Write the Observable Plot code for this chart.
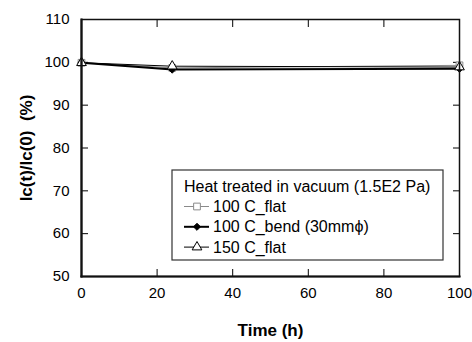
<!DOCTYPE html>
<html>
<head>
<meta charset="utf-8">
<script src="https://cdn.jsdelivr.net/npm/d3@7"></script>
<script src="https://cdn.jsdelivr.net/npm/@observablehq/plot@0.6"></script>
<style>
  body { margin: 0; background: #fff; }
  #chart svg { font-family: "Liberation Sans", Arial, sans-serif; }
</style>
</head>
<body>
<div id="chart"></div>
<script>
const times = [0, 24, 100];
const flat100 = [99.9, 98.7, 99.3];
const bend100 = [99.9, 98.3, 98.5];
const flat150 = [99.9, 99.1, 98.9];
const seriesNames = ["100 C_flat", "100 C_bend (30mm\u03d5)", "150 C_flat"];
const legendTitle = "Heat treated in vacuum (1.5E2 Pa)";
const xTicks = [0, 20, 40, 60, 80, 100];
const yTicks = [50, 60, 70, 80, 90, 100, 110];

const seriesValues = [flat100, bend100, flat150];
const styles = [
  {stroke: "#8a8a8a", strokeWidth: 1, symbol: "square", fill: "white", dotStroke: "#8a8a8a", r: 3.8},
  {stroke: "#000", strokeWidth: 2, symbol: "diamond2", fill: "#000", dotStroke: "#000", r: 3.2},
  {stroke: "#000", strokeWidth: 1, symbol: "triangle", fill: "white", dotStroke: "#000", r: 3.6}
];
const rows = seriesValues.map((vals, i) => times.map((t, j) => ({series: seriesNames[i], t, v: vals[j]})));

const marks = [];
rows.forEach((data, i) => {
  const s = styles[i];
  marks.push(Plot.line(data, {x: "t", y: "v", stroke: s.stroke, strokeWidth: s.strokeWidth}));
});
rows.forEach((data, i) => {
  const s = styles[i];
  marks.push(Plot.dot(data, {x: "t", y: "v", symbol: () => s.symbol, r: s.r, fill: s.fill, stroke: s.dotStroke, strokeWidth: 1}));
});

const plot = Plot.plot({
  width: 472,
  height: 342,
  marginLeft: 81,
  marginRight: 13,
  marginTop: 19,
  marginBottom: 66,
  style: {fontFamily: "Liberation Sans, Arial, sans-serif", fontSize: "15px", color: "#000", background: "#fff"},
  x: {domain: [0, 100]},
  y: {domain: [50, 110]},
  symbol: {type: "identity"},
  marks: [
    Plot.axisX({ticks: xTicks, tickSize: -7, tickPadding: 18, anchor: "bottom", label: "Time (h)", labelArrow: "none", labelAnchor: "center", labelOffset: 59, fontSize: 15}),
    Plot.axisX({ticks: xTicks.slice(1, -1), tickSize: -7, anchor: "top", tickFormat: () => "", label: null}),
    Plot.axisY({ticks: yTicks, tickSize: -7, tickPadding: 19, anchor: "left", label: "Ic(t)/Ic(0)  (%)", labelArrow: "none", labelAnchor: "center", labelOffset: 62, fontSize: 15}),
    Plot.axisY({ticks: yTicks.slice(1, -1), tickSize: -7, anchor: "right", tickFormat: () => "", label: null}),
    ...marks,
    Plot.frame({stroke: "#111", strokeWidth: 1.5}),
    Plot.frame({anchor: "left", stroke: "#111", strokeWidth: 2.2}),
    Plot.frame({anchor: "bottom", stroke: "#111", strokeWidth: 2.2})
  ]
});

const svg = d3.select(plot);
svg.selectAll("g[aria-label='x-axis label'] text, g[aria-label='y-axis label'] text")
  .attr("font-weight", "bold").attr("font-size", "17px");

// legend
const lg = svg.append("g").attr("font-family", "Liberation Sans, Arial, sans-serif")
  .attr("font-size", "16px").attr("text-anchor", "start");
const bx = 172, by = 170, bw = 271, bh = 90;
lg.append("rect").attr("x", bx).attr("y", by).attr("width", bw).attr("height", bh)
  .attr("fill", "white").attr("stroke", "#333").attr("stroke-width", 1.2);
lg.append("text").attr("x", bx + 12).attr("y", by + 22).text(legendTitle);
const symGen = {square: d3.symbolSquare, diamond2: d3.symbolDiamond2, triangle: d3.symbolTriangle};
seriesNames.forEach((name, i) => {
  const s = styles[i];
  const yy = by + 36.5 + i * 20.3;
  lg.append("line").attr("x1", bx + 12).attr("x2", bx + 37).attr("y1", yy).attr("y2", yy)
    .attr("stroke", s.stroke).attr("stroke-width", s.strokeWidth);
  const area = Math.PI * s.r * s.r;
  lg.append("path").attr("transform", `translate(${bx + 25},${yy})`)
    .attr("d", d3.symbol(symGen[s.symbol], area)())
    .attr("fill", s.fill).attr("stroke", s.dotStroke);
  lg.append("text").attr("x", bx + 41).attr("y", yy + 5.5).text(name);
});

document.getElementById("chart").appendChild(plot);
</script>
</body>
</html>
